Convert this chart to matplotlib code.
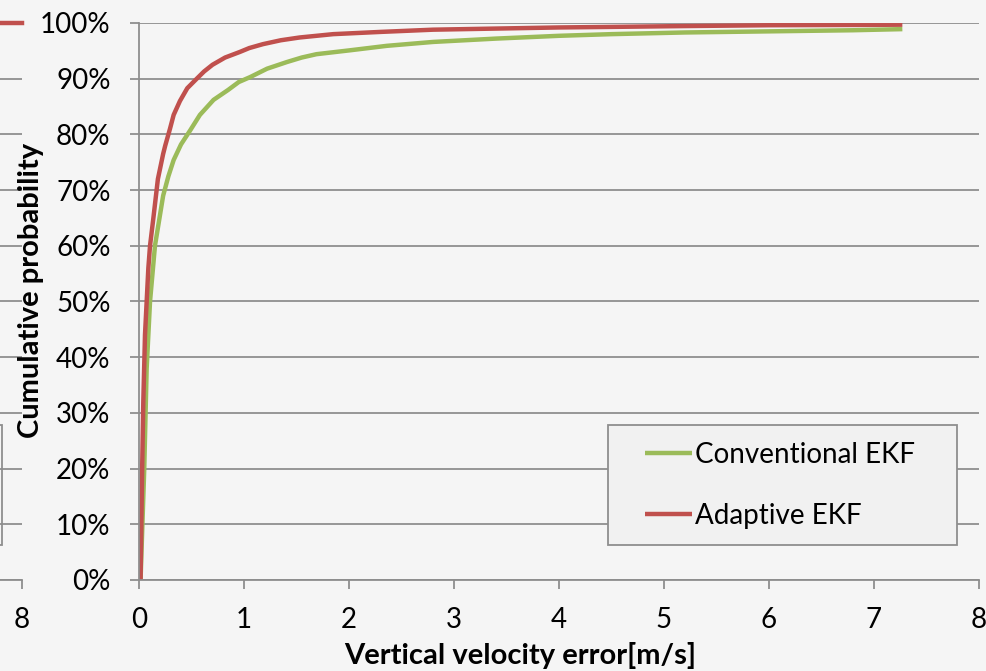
import matplotlib.pyplot as plt
from matplotlib.patches import Rectangle
from matplotlib.ticker import FuncFormatter

# Cumulative distribution of vertical velocity error, x in m/s, y in %
adaptive_x = [0.015, 0.03, 0.041, 0.057, 0.089, 0.105, 0.137, 0.18, 0.23, 0.25, 0.295,
              0.33, 0.39, 0.46, 0.55, 0.62, 0.70, 0.82, 0.96, 1.05, 1.18, 1.35, 1.53,
              1.85, 2.3, 2.8, 3.4, 4.0, 4.5, 5.2, 6.0, 6.8, 7.27]
adaptive_cdf = [0, 20, 32, 44, 56, 60, 65, 72, 76.5, 78, 81,
                83.5, 86, 88.3, 90, 91.3, 92.5, 93.8, 94.8, 95.5, 96.2, 96.9, 97.4,
                98.0, 98.4, 98.8, 99.0, 99.2, 99.3, 99.45, 99.6, 99.65, 99.7]

conventional_x = [0.015, 0.05, 0.073, 0.105, 0.152, 0.23, 0.28, 0.33, 0.40, 0.49, 0.58,
                  0.71, 0.85, 0.95, 1.06, 1.22, 1.41, 1.55, 1.69, 2.01, 2.36, 2.8, 3.4,
                  4.0, 4.5, 5.2, 6.0, 6.8, 7.27]
conventional_cdf = [0, 20, 38, 50, 60, 69, 72.5, 75.4, 78.2, 80.8, 83.5,
                    86.2, 88, 89.4, 90.3, 91.8, 93, 93.8, 94.4, 95.1, 95.9, 96.6, 97.2,
                    97.7, 98.0, 98.3, 98.5, 98.7, 98.9]

# tail of the neighbouring chart, only its right edge is in view
side_x = [7.5, 8.0]
side_cdf = [100, 100]

y_ticks = list(range(0, 101, 10))
x_ticks = list(range(0, 9))

GREEN = "#9BBB59"
RED = "#C0504D"
GRID = "#8e8e8e"
BG = "#f5f5f5"

plt.rcParams["font.family"] = ["Lato", "DejaVu Sans"]

fig = plt.figure(figsize=(9.86, 6.71), dpi=100, facecolor=BG)

W, H = 986, 671
x0_px, x8_px, y0_px, y100_px = 139, 979, 580, 23
# neighbour first so the main axes (and its y label) draw on top
ax0 = fig.add_axes([(22 - (x8_px - x0_px)) / W, (H - y0_px) / H, (x8_px - x0_px) / W,
                    (y0_px - y100_px) / H])
ax = fig.add_axes([x0_px / W, (H - y0_px) / H, (x8_px - x0_px) / W, (y0_px - y100_px) / H])


def style_axes(a):
    a.set_facecolor(BG)
    a.set_xlim(0, 8)
    a.set_ylim(0, 100)
    a.set_yticks(y_ticks)
    for s in ("top", "right"):
        a.spines[s].set_visible(False)
    for s in ("left", "bottom"):
        a.spines[s].set_color(GRID)
        a.spines[s].set_linewidth(1.3)
    a.grid(axis="y", color=GRID, linewidth=1.3)
    a.set_axisbelow(True)
    a.tick_params(axis="both", direction="out", length=6.5, width=1.3, color=GRID,
                  labelsize=20, labelcolor="black")
    a.tick_params(axis="y", pad=14)
    a.tick_params(axis="x", pad=13)


style_axes(ax)
style_axes(ax0)
ax.patch.set_visible(False)

ax.set_xticks(x_ticks)
ax.yaxis.set_major_formatter(FuncFormatter(lambda v, p: f"{v:.0f}%"))

ax.plot(conventional_x, conventional_cdf, color=GREEN, linewidth=3.2, label="Conventional EKF",
        solid_capstyle="butt", solid_joinstyle="round")
ax.plot(adaptive_x, adaptive_cdf, color=RED, linewidth=3.2, label="Adaptive EKF",
        solid_capstyle="butt", solid_joinstyle="round")

ax.set_ylabel("Cumulative probability", fontsize=21, fontweight="bold")
ax.yaxis.set_label_coords(-0.113, 0.52)
ax.set_xlabel("Vertical velocity error[m/s]", fontsize=21, fontweight="bold")
ax.xaxis.set_label_coords(0.454, -0.112)

# legend box drawn separately so the entries can sit where they belong
ax.add_patch(Rectangle((0.558, 0.063), 0.416, 0.215, transform=ax.transAxes,
                       facecolor="#f1f1f1", edgecolor=GRID, linewidth=1.3, zorder=4))
leg = ax.legend(loc="upper left", bbox_to_anchor=(0.602, 0.248), borderaxespad=0,
                borderpad=0, fontsize=20, handlelength=1.7, handletextpad=0.1,
                labelspacing=1.25, frameon=False)
leg.set_zorder(5)
for line in leg.get_lines():
    line.set_linewidth(3.2)

# neighbouring chart remnant
ax0.set_xticks([8])
ax0.set_yticklabels([])
ax0.tick_params(axis="y", length=0)
ax0.plot(side_x, side_cdf, color=RED, linewidth=3.2, clip_on=False)
ax0.add_patch(Rectangle((7.0, 6.3), 0.81, 21.5, facecolor="none", edgecolor=GRID,
                        linewidth=1.3))

fig.savefig("out.png", dpi=100, facecolor=BG)
